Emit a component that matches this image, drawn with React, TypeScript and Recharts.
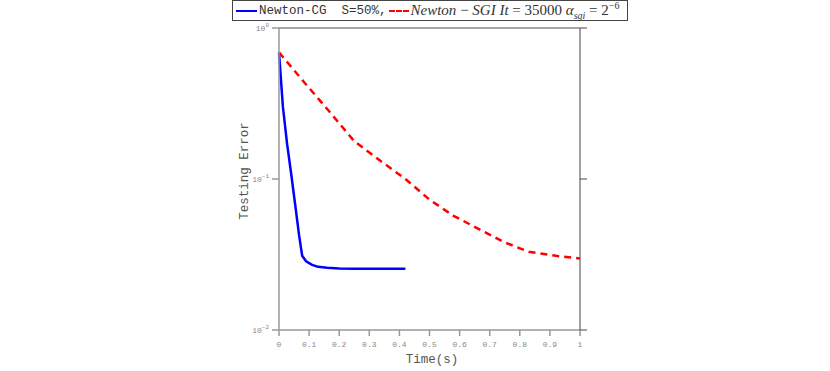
import { LineChart, Line, XAxis, YAxis } from 'recharts'

// Newton-CG, S=50%
const cgTime = [0, 0.013, 0.027, 0.04, 0.054, 0.067, 0.077, 0.09, 0.11, 0.13, 0.16, 0.2, 0.25, 0.3, 0.35, 0.42]
const cgError = [0.69, 0.3, 0.17, 0.11, 0.067, 0.042, 0.031, 0.0285, 0.027, 0.0262, 0.0258, 0.0255, 0.0254, 0.0254, 0.0254, 0.0254]

// Newton-SGI, It = 35000
const sgiTime = [0, 0.08, 0.16, 0.25, 0.33, 0.42, 0.5, 0.58, 0.67, 0.75, 0.83, 0.92, 1.0]
const sgiError = [0.69, 0.446, 0.291, 0.178, 0.135, 0.1, 0.073, 0.057, 0.046, 0.038, 0.033, 0.031, 0.0298]

const xTicks = [0, 0.1, 0.2, 0.3, 0.4, 0.5, 0.6, 0.7, 0.8, 0.9, 1]
const yTicks = [0.01, 0.1, 1]

const cgData = cgTime.map((t, i) => ({ t, err: cgError[i] }))
const sgiData = sgiTime.map((t, i) => ({ t, err: sgiError[i] }))

const mono = '"Liberation Mono", "DejaVu Sans Mono", monospace'
const serif = '"Liberation Serif", "DejaVu Serif", serif'

function YTick({ x, y, payload }: any) {
  const exp = Math.round(Math.log10(payload.value))
  const sup = exp < 0 ? `\u2212${-exp}` : `${exp}`
  return (
    <text x={x} y={y} dy={3} textAnchor="end" fontFamily={mono} fontSize={8} fill="#888">
      10
      <tspan dy={-4} fontSize={6}>{sup}</tspan>
    </text>
  )
}

function XTick({ x, y, payload }: any) {
  return (
    <text x={x} y={y} dy={7} textAnchor="middle" fontFamily={mono} fontSize={8} fill="#888">
      {payload.value}
    </text>
  )
}

// tick marks only, no labels
function NoLabel() {
  return <g />
}

function ChartLegend() {
  return (
    <div
      style={{
        position: 'absolute',
        left: 232,
        top: 0,
        width: 396,
        height: 21,
        border: '1px solid #444',
        background: '#fff',
        display: 'flex',
        alignItems: 'center',
        whiteSpace: 'nowrap',
        boxSizing: 'border-box',
        color: '#333',
      }}
    >
      <span style={{ display: 'inline-block', width: 21, height: 0, borderTop: '2.5px solid #0000ff', marginLeft: 3 }} />
      <span style={{ fontFamily: mono, fontSize: 12.5, marginLeft: 2 }}>Newton-CG&nbsp;&nbsp;S=50%,</span>
      <span style={{ display: 'inline-block', width: 20, height: 0, borderTop: '2.5px dashed #ff0000', marginLeft: 2 }} />
      <span style={{ fontFamily: serif, fontSize: 15, fontStyle: 'italic', marginLeft: 2 }}>
        Newton <span style={{ fontStyle: 'normal' }}>{'\u2212'}</span> SGI It <span style={{ fontStyle: 'normal' }}>= 35000</span> {'\u03b1'}
        <sub style={{ fontSize: 10 }}>sgi</sub> <span style={{ fontStyle: 'normal' }}>= 2</span>
        <sup style={{ fontSize: 10, fontStyle: 'normal' }}>{'\u2212'}6</sup>
      </span>
    </div>
  )
}

export default function App() {
  return (
    <div style={{ position: 'absolute', left: 0, top: 0, width: 830, height: 371, background: '#fff' }}>
      <LineChart width={830} height={371} margin={{ top: 18, right: 240, bottom: 11, left: 239 }}>
        <XAxis
          xAxisId="bottom"
          dataKey="t"
          type="number"
          domain={[0, 1]}
          ticks={xTicks}
          height={30}
          tickSize={6}
          tickMargin={4}
          tick={<XTick />}
          stroke="#999"
          strokeWidth={1.5}
          allowDuplicatedCategory={false}
        />
        <XAxis
          xAxisId="top"
          orientation="top"
          dataKey="t"
          type="number"
          domain={[0, 1]}
          ticks={xTicks}
          height={10}
          tickSize={5}
          tick={<NoLabel />}
          stroke="#888"
          strokeWidth={1.5}
          allowDuplicatedCategory={false}
        />
        <YAxis
          yAxisId="left"
          scale="log"
          type="number"
          domain={[0.01, 1]}
          ticks={yTicks}
          width={40}
          tickSize={7}
          tickMargin={3}
          tick={<YTick />}
          stroke="#999"
          strokeWidth={1.5}
          allowDataOverflow
        />
        <YAxis
          yAxisId="right"
          orientation="right"
          scale="log"
          type="number"
          domain={[0.01, 1]}
          ticks={yTicks}
          width={10}
          tickSize={7}
          tick={<NoLabel />}
          stroke="#444"
          allowDataOverflow
        />
        <Line
          xAxisId="bottom"
          yAxisId="left"
          data={cgData}
          dataKey="err"
          name="Newton-CG S=50%"
          type="linear"
          stroke="#0000ff"
          strokeWidth={2.5}
          dot={false}
          isAnimationActive={false}
        />
        <Line
          xAxisId="bottom"
          yAxisId="left"
          data={sgiData}
          dataKey="err"
          name="Newton-SGI It=35000"
          type="linear"
          stroke="#ff0000"
          strokeWidth={2.5}
          strokeDasharray="7 5"
          dot={false}
          isAnimationActive={false}
        />
      </LineChart>
      <ChartLegend />
      <div
        style={{
          position: 'absolute',
          left: 245,
          top: 171,
          transform: 'translate(-50%, -50%) rotate(-90deg)',
          fontFamily: mono,
          fontSize: 12.5,
          color: '#555',
          whiteSpace: 'nowrap',
        }}
      >
        Testing Error
      </div>
      <div
        style={{
          position: 'absolute',
          left: 432,
          top: 360,
          transform: 'translate(-50%, -50%)',
          fontFamily: mono,
          fontSize: 12.5,
          color: '#555',
          whiteSpace: 'nowrap',
        }}
      >
        Time(s)
      </div>
    </div>
  )
}
